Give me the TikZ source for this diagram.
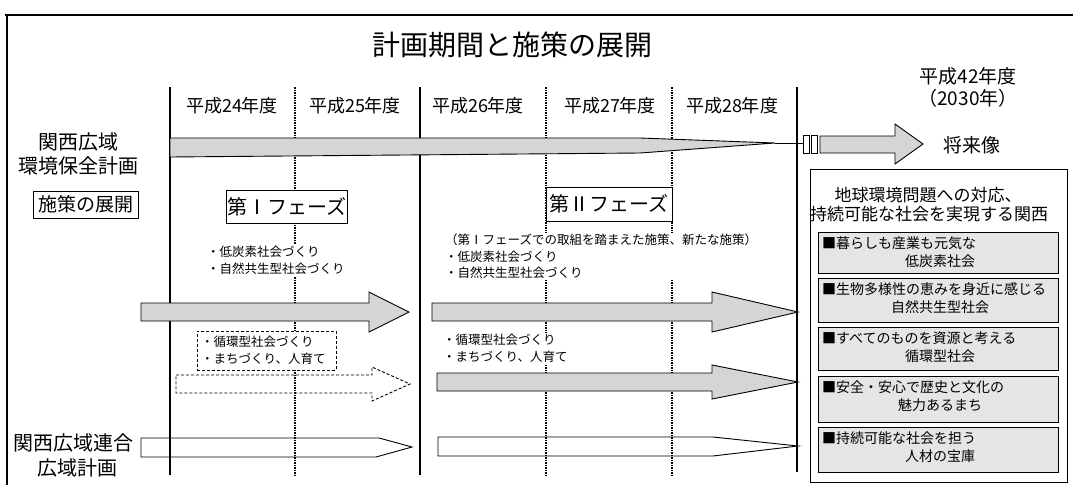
\documentclass[tikz,border=0pt]{standalone}
\usepackage{fontspec}
\newfontfamily\jp{Noto Sans CJK JP}
\begin{document}
\begin{tikzpicture}[x=1pt,y=-1pt,
  every node/.style={inner sep=0pt,font=\jp},
  vsolid/.style={line width=1.4pt},
  vdot/.style={line width=1.1pt,dash pattern=on 1.5pt off 1pt},
  garrow/.style={draw,line width=0.9pt,fill=gray!33},
  warrow/.style={draw,line width=0.9pt},
  darrow/.style={draw,line width=0.9pt,dash pattern=on 3pt off 2pt},
  yr/.style={font=\jp\fontsize{18}{20}\selectfont},
  side/.style={font=\jp\fontsize{20}{22}\selectfont},
  phase/.style={draw,fill=white,line width=0.9pt,font=\jp\fontsize{20}{22}\selectfont},
  txt/.style={fill=white,align=left,inner sep=1pt,font=\jp\fontsize{12.5}{17}\selectfont},
  head/.style={font=\jp\fontsize{17}{19}\selectfont},
  goal/.style={draw,line width=1pt,fill=gray!20},
  gl/.style={font=\jp\fontsize{14}{16}\selectfont}
]
\useasboundingbox (0,0) rectangle (1073,485);
\fill[white] (0,0) rectangle (1073,485);
% frame
\draw[line width=1.5pt] (5,15) -- (1073,15);
\draw[line width=1.2pt] (7,15) -- (7,485);
% title
\node[font=\jp\fontsize{28}{30}\selectfont] (title) at (512,45) {計画期間と施策の展開};
% grid lines
\coordinate (l1t) at (170,87); \coordinate (l1b) at (170,475);
\coordinate (l2t) at (295,87); \coordinate (l2b) at (295,475);
\coordinate (l3t) at (420,87); \coordinate (l3b) at (420,475);
\coordinate (l4t) at (546,87); \coordinate (l4b) at (546,475);
\coordinate (l5t) at (672,87); \coordinate (l5b) at (672,475);
\coordinate (l6t) at (797,87); \coordinate (l6b) at (797,472);
\draw[vsolid] (l1t) -- (l1b);
\draw[vdot] (l2t) -- (l2b);
\draw[vsolid] (l3t) -- (l3b);
\draw[vdot] (l4t) -- (l4b);
\draw[vdot] (l5t) -- (l5b);
\draw[vsolid] (l6t) -- (l6b);
% year labels
\node[yr] (y24) at (232,106) {平成24年度};
\node[yr] (y25) at (355,106) {平成25年度};
\node[yr] (y26) at (478,106) {平成26年度};
\node[yr] (y27) at (610,106) {平成27年度};
\node[yr] (y28) at (732,106) {平成28年度};
\node[font=\jp\fontsize{19}{21}\selectfont] (y42) at (968,76) {平成42年度};
\node[font=\jp\fontsize{19}{21}\selectfont] (y2030) at (968,98) {（2030年）};
% left labels
\node[side] (kk1) at (78,142) {関西広域};
\node[side] (kk2) at (78,166) {環境保全計画};
\node[draw,line width=0.9pt,minimum width=105pt,minimum height=27pt,font=\jp\fontsize{19}{21}\selectfont] (sesaku) at (85.5,204.5) {施策の展開};
\node[side] (rg1) at (73,443) {関西広域連合};
\node[side] (rg2) at (77,468) {広域計画};
% top plan arrow
\draw[garrow] (170,138) -- (640,138) -- (775,143) -- (640,153) -- (170,157) -- cycle;
\coordinate (tipA) at (775,143);
\coordinate (rectL) at (803,143);
\draw[line width=0.9pt] (tipA) -- (rectL);
\draw[line width=0.9pt,fill=white] (803,135) rectangle (809,153);
\draw[line width=0.9pt,fill=white] (811,135) rectangle (817,153);
\draw[garrow] (820,136) -- (895,136) -- (895,124) -- (923,144) -- (895,164) -- (895,153) -- (820,153) -- cycle;
\node[font=\jp\fontsize{19}{21}\selectfont] (future) at (972,145) {将来像};
% phase boxes
\node[phase,minimum width=121pt,minimum height=33pt] (ph1) at (286.5,206.5) {第Ⅰフェーズ};
\node[phase,minimum width=126pt,minimum height=34pt] (ph2) at (609,204) {第Ⅱフェーズ};
% phase texts
\node[txt,anchor=west] (t1) at (206,260.5) {・低炭素社会づくり\\・自然共生型社会づくり};
\node[txt,anchor=west,font=\jp\fontsize{12.5}{16.5}\selectfont] (t2) at (444,256.5) {（第Ⅰフェーズでの取組を踏まえた施策、新たな施策）\\・低炭素社会づくり\\・自然共生型社会づくり};
\node[txt,anchor=west] (t3) at (442,348.5) {・循環型社会づくり\\・まちづくり、人育て};
\node[draw,fill=white,line width=0.9pt,dash pattern=on 3pt off 2pt,minimum width=139pt,minimum height=39pt] (dbox) at (266.5,350.5) {};
\node[txt,anchor=west,fill=none] (t4) at (200,350.5) {・循環型社会づくり\\・まちづくり、人育て};
% gray arrows
\draw[garrow] (141,303) -- (369,303) -- (369,292) -- (409,312) -- (369,332) -- (369,321) -- (141,321) -- cycle;
\draw[garrow] (432,303) -- (712,303) -- (712,292) -- (798,312) -- (712,332) -- (712,321) -- (432,321) -- cycle;
\draw[garrow] (437,373) -- (712,373) -- (712,365) -- (798,382) -- (712,399) -- (712,391) -- (437,391) -- cycle;
% dashed arrow
\draw[darrow] (176,375) -- (372,375) -- (372,367) -- (410,384) -- (372,401) -- (372,393) -- (176,393) -- cycle;
% white arrows
\draw[warrow] (141,438) -- (379,438) -- (412,447) -- (376,457) -- (141,457) -- cycle;
\draw[warrow] (438,437) -- (713,437) -- (798,446) -- (713,456) -- (438,456) -- cycle;
% right box
\draw[line width=0.9pt,fill=white] (810,169) rectangle (1067,482);
\node[head] (h1) at (928,195) {地球環境問題への対応、};
\node[head] (h2) at (929,214) {持続可能な社会を実現する関西};
\foreach \t/\b/\la/\lb in {232/273/■暮らしも産業も元気な/低炭素社会,
  278/322/■生物多様性の恵みを身近に感じる/自然共生型社会,
  327/370/■すべてのものを資源と考える/循環型社会,
  376/422/■安全・安心で歴史と文化の/魅力あるまち,
  427/472/■持続可能な社会を担う/人材の宝庫}{
  \draw[goal] (818,\t) rectangle (1058,\b);
  \node[gl,anchor=west] at (822,\t+11) {\la};
  \node[gl] at (940,\t+29) {\lb};
}
\end{tikzpicture}
\end{document}
